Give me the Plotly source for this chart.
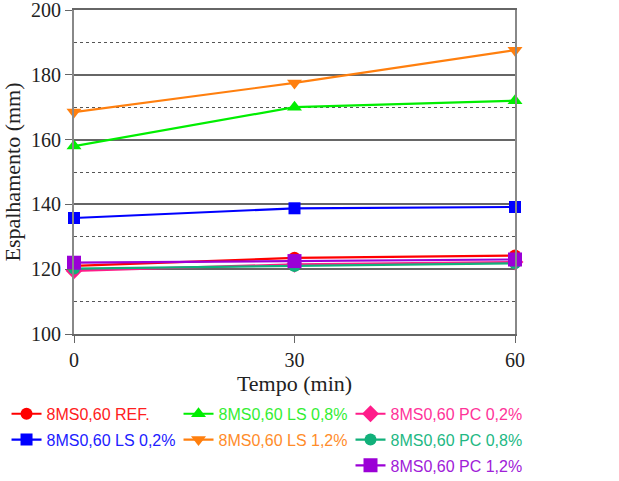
import plotly.graph_objects as go

tempo = [0, 30, 60]
ref = [121.0, 123.5, 124.2]
ls02 = [135.8, 138.8, 139.2]
ls08 = [158.0, 170.0, 172.0]
ls12 = [168.5, 177.5, 187.6]
pc02 = [119.5, 121.5, 122.2]
pc08 = [120.2, 121.0, 121.8]
pc12 = [122.0, 122.5, 123.0]

names = ["8MS0,60 REF.", "8MS0,60 LS 0,2%", "8MS0,60 LS 0,8%", "8MS0,60 LS 1,2%",
         "8MS0,60 PC 0,2%", "8MS0,60 PC 0,8%", "8MS0,60 PC 1,2%"]
series = [ref, ls02, ls08, ls12, pc02, pc08, pc12]
colors = ["#ff0000", "#0000ff", "#00ee00", "#ff7f0e", "#ff1c8a", "#12b07a", "#9b00d6"]
textcolors = ["#ff2020", "#2020ff", "#33ee33", "#ff8c2a", "#ff3399", "#22b884", "#a020d8"]
symbols = ["circle", "square", "triangle-up", "triangle-down", "diamond", "circle", "square"]
sizes = [12, 12, 13, 13, 13, 12, 14]
legends = ["legend", "legend", "legend2", "legend2", "legend3", "legend3", "legend3"]

fig = go.Figure()
for n, s, c, tc, sym, sz, lg in zip(names, series, colors, textcolors, symbols, sizes, legends):
    fig.add_trace(go.Scatter(
        x=tempo, y=s, mode="lines+markers",
        name=f"<span style='color:{tc}'>{n}</span>",
        line=dict(color=c, width=2.2),
        marker=dict(symbol=sym, size=sz, color=c),
        cliponaxis=False, legend=lg, legendgroup=n,
    ))

legfont = dict(family="Liberation Sans, Arial", size=16)
common = dict(yanchor="top", y=-0.194, bgcolor="rgba(0,0,0,0)", font=legfont,
              tracegroupgap=2, orientation="v")
fig.update_layout(
    width=619, height=481,
    margin=dict(l=74, r=104, t=10, b=147, autoexpand=False),
    plot_bgcolor="white", paper_bgcolor="white",
    font=dict(family="Liberation Serif, Times New Roman", color="#222"),
    legend=dict(x=-0.153, xanchor="left", **common),
    legend2=dict(x=0.237, xanchor="left", **common),
    legend3=dict(x=0.627, xanchor="left", **common),
    showlegend=True,
)
fig.update_xaxes(
    range=[0, 60], tickvals=[0, 30, 60], ticks="outside", ticklen=7, tickcolor="#666",
    showline=True, linecolor="#666", linewidth=2, mirror=True, showgrid=False, zeroline=False,
    tickfont=dict(size=20), title=dict(text="Tempo (min)", font=dict(size=22), standoff=6),
    automargin=False,
)
fig.update_yaxes(
    range=[100, 200], tickvals=[100, 120, 140, 160, 180, 200], ticks="outside", ticklen=7,
    tickcolor="#666", showline=True, linecolor="#888", linewidth=2, mirror=True,
    showgrid=True, gridcolor="#666", gridwidth=1.5, zeroline=False,
    minor=dict(dtick=10, showgrid=True, griddash="dot", gridcolor="#555", gridwidth=1),
    tickfont=dict(size=20), title=dict(text="Espalhamento (mm)", font=dict(size=22), standoff=6),
    automargin=False, ticklabeloverflow="allow",
)
fig.write_html("out.html")
